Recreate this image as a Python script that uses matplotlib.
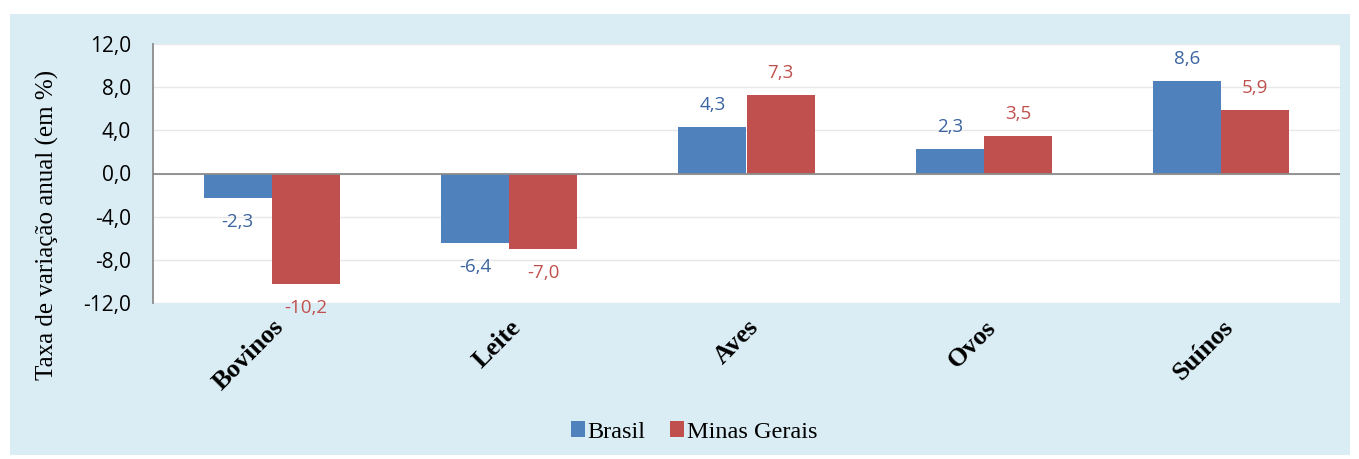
"""
Taxa de variação anual da produção pecuária: Brasil vs Minas Gerais.
"""

import matplotlib.pyplot as plt
import numpy as np
from matplotlib.patches import Rectangle

categories = ["Bovinos", "Leite", "Aves", "Ovos", "Suínos"]
brasil = [-2.3, -6.4, 4.3, 2.3, 8.6]
minas = [-10.2, -7.0, 7.3, 3.5, 5.9]
series_names = ["Brasil", "Minas Gerais"]
yticks = [-12.0, -8.0, -4.0, 0.0, 4.0, 8.0, 12.0]

BLUE = "#4f81bd"
RED = "#c0504d"
BLUE_TXT = "#3b64a0"
RED_TXT = "#c0504d"
BG = "#daedf4"
SANS = ["Open Sans", "DejaVu Sans"]
SERIF = ["Liberation Serif", "DejaVu Serif"]


def fmt(v: float) -> str:
    return f"{v:.1f}".replace(".", ",")


fig = plt.figure(figsize=(13.59, 4.59), dpi=100, facecolor="white")
fig.patches.append(
    Rectangle((10 / 1359, 4 / 459), 1340 / 1359, 441 / 459,
              transform=fig.transFigure, facecolor=BG, edgecolor="none", zorder=-10)
)
ax = fig.add_axes([153 / 1359, 156 / 459, 1187 / 1359, 259 / 459])
ax.set_zorder(1)
ax.set_facecolor("white")

x = np.arange(len(categories))
w = 0.287
bars_b = ax.bar(x - w / 2, brasil, w, color=BLUE, label=series_names[0], zorder=3)
bars_m = ax.bar(x + w / 2, minas, w, color=RED, label=series_names[1], zorder=3)

for bars, vals, col in ((bars_b, brasil, BLUE_TXT), (bars_m, minas, RED_TXT)):
    for b, v in zip(bars, vals):
        cx = b.get_x() + b.get_width() / 2
        off = 1.2 if v >= 0 else -1.4
        ax.text(cx, v + off, fmt(v), ha="center", va="bottom" if v >= 0 else "top",
                color=col, fontsize=13.5, family=SANS, zorder=4, clip_on=False)

ax.set_xlim(-0.5, len(categories) - 0.5)
ax.set_ylim(-12, 12)
ax.set_yticks(yticks)
ax.set_yticklabels([fmt(t) for t in yticks], family=SANS, fontsize=15)
ax.axhline(0, color="#8c8c8c", linewidth=1.3, zorder=4)
ax.grid(axis="y", color="#e8e8e8", linewidth=1.0, zorder=0)
ax.tick_params(axis="y", length=0, pad=16)
ax.tick_params(axis="x", length=0, pad=9)

ax.set_xticks(x)
ax.set_xticklabels(categories, rotation=45, ha="right", rotation_mode="anchor",
                   family=SERIF, fontsize=19, fontweight="bold")

for side in ("top", "right", "bottom"):
    ax.spines[side].set_visible(False)
ax.spines["left"].set_color("#8c8c8c")
ax.spines["left"].set_linewidth(1.3)

fig.text(47 / 1359, 1 - 225 / 459, "Taxa de variação anual (em %)", rotation=90,
         ha="center", va="center", family=SERIF, fontsize=18)

fig.legend(loc="center", bbox_to_anchor=(694 / 1359, 1 - 432 / 459), ncol=2,
           frameon=False, prop={"family": SERIF, "size": 17.5},
           handlelength=0.6, handleheight=0.6, handletextpad=0.1, columnspacing=1.0)

fig.savefig("out.png", dpi=100, facecolor=fig.get_facecolor())
